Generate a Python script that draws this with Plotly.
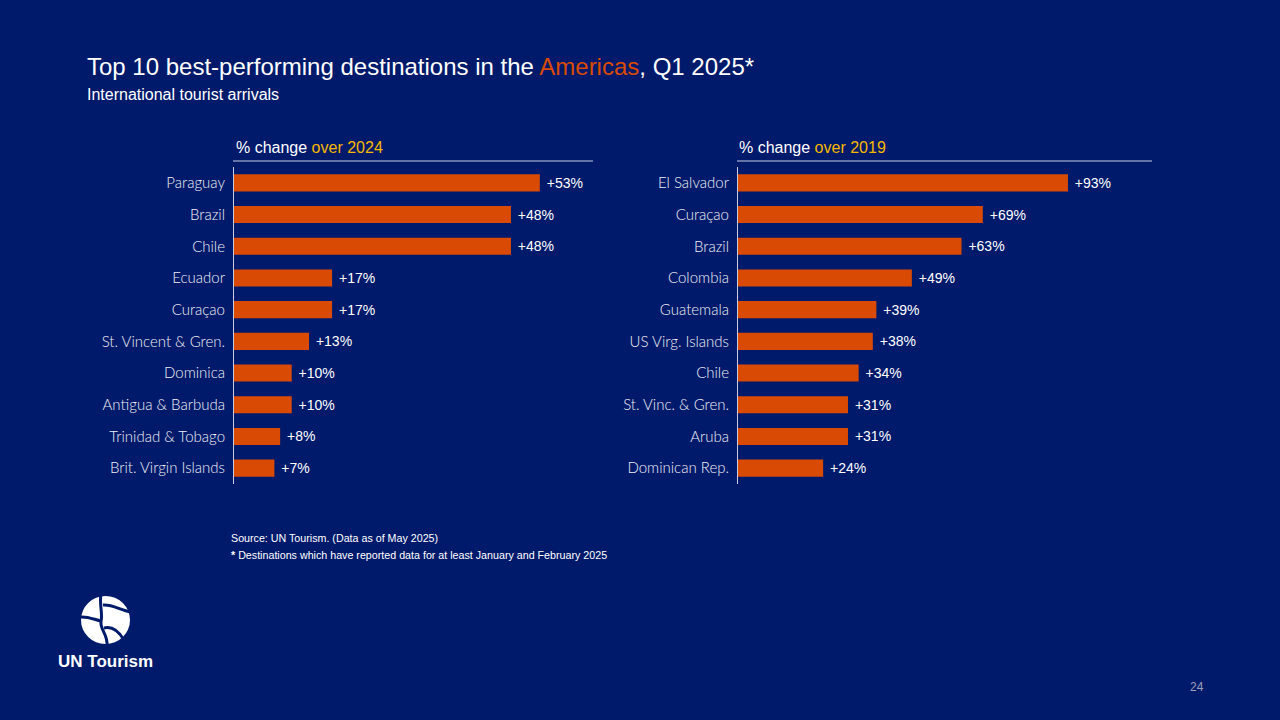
import plotly.graph_objects as go

# Data
left_categories = ["Paraguay", "Brazil", "Chile", "Ecuador", "Curaçao", "St. Vincent & Gren.",
                   "Dominica", "Antigua & Barbuda", "Trinidad & Tobago", "Brit. Virgin Islands"]
left_values = [53, 48, 48, 17, 17, 13, 10, 10, 8, 7]

right_categories = ["El Salvador", "Curaçao", "Brazil", "Colombia", "Guatemala", "US Virg. Islands",
                    "Chile", "St. Vinc. & Gren.", "Aruba", "Dominican Rep."]
right_values = [93, 69, 63, 49, 39, 38, 34, 31, 31, 24]

BG = "#001A6B"
BAR = "#D94A05"
YEL = "#F5B800"
W, H = 1280, 720


def px(x):
    return x / W


def py(y):
    return 1 - y / H


fig = go.Figure()

val_font = dict(color="white", size=14, family="Liberation Sans")

fig.add_trace(go.Bar(
    x=left_values, y=left_categories, orientation="h",
    marker=dict(color=BAR, line=dict(width=0)),
    width=0.54,
    text=[f" +{v}%" for v in left_values], textposition="outside",
    textfont=val_font,
    cliponaxis=False, xaxis="x", yaxis="y", hoverinfo="skip",
))
fig.add_trace(go.Bar(
    x=right_values, y=right_categories, orientation="h",
    marker=dict(color=BAR, line=dict(width=0)),
    width=0.54,
    text=[f" +{v}%" for v in right_values], textposition="outside",
    textfont=val_font,
    cliponaxis=False, xaxis="x2", yaxis="y2", hoverinfo="skip",
))

ydom = [py(484), py(167)]
common_x = dict(showgrid=False, zeroline=False, showticklabels=False, showline=False, fixedrange=True)
common_y = dict(showgrid=False, zeroline=False, showline=True, linecolor="#C8CCE0", linewidth=1,
                ticks="", autorange="reversed", domain=ydom, ticklabelstandoff=5, fixedrange=True,
                tickfont=dict(color="#EEEFF5", size=15, family="Lato", weight=300), type="category")

fig.update_layout(
    width=W, height=H,
    paper_bgcolor=BG, plot_bgcolor=BG,
    margin=dict(l=0, r=0, t=0, b=0),
    showlegend=False,
    bargap=0.46,
    xaxis=dict(domain=[px(234), px(593)], range=[0, (593 - 234) / 5.77], **common_x),
    yaxis=dict(anchor="x", **common_y),
    xaxis2=dict(domain=[px(738), px(1152)], range=[0, (1152 - 738) / 3.548], anchor="y2", **common_x),
    yaxis2=dict(anchor="x2", **common_y),
    font=dict(family="Liberation Sans", color="white"),
)

annotations = [
    dict(x=px(85), y=py(66), xanchor="left", yanchor="middle",
         text=f"Top 10 best-performing destinations in the <span style='color:{BAR}'>Americas</span>, Q1 2025*",
         font=dict(size=24, color="white", family="Liberation Sans")),
    dict(x=px(85), y=py(95), xanchor="left", yanchor="middle",
         text="International tourist arrivals",
         font=dict(size=16, color="white", family="Liberation Sans")),
    dict(x=px(234), y=py(148), xanchor="left", yanchor="middle",
         text=f"% change <span style='color:{YEL}'>over 2024</span>",
         font=dict(size=16, color="white", family="Liberation Sans")),
    dict(x=px(737), y=py(148), xanchor="left", yanchor="middle",
         text=f"% change <span style='color:{YEL}'>over 2019</span>",
         font=dict(size=16, color="white", family="Liberation Sans")),
    dict(x=px(229), y=py(538), xanchor="left", yanchor="middle",
         text="Source: UN Tourism. (Data as of May 2025)",
         font=dict(size=10.7, color="white", family="Liberation Sans")),
    dict(x=px(229), y=py(555), xanchor="left", yanchor="middle",
         text="<b>*</b> Destinations which have reported data for at least January and February 2025",
         font=dict(size=10.7, color="white", family="Liberation Sans")),
    dict(x=px(56), y=py(661), xanchor="left", yanchor="middle",
         text="<b>UN Tourism</b>",
         font=dict(size=17, color="white", family="Liberation Sans")),
    dict(x=px(1197), y=py(687), xanchor="center", yanchor="middle",
         text="24",
         font=dict(size=12, color="#9AA0B8", family="Liberation Sans")),
]
for a in annotations:
    a.update(xref="paper", yref="paper", showarrow=False)
fig.update_layout(annotations=annotations)

shapes = [
    dict(type="line", x0=px(233), x1=px(593), y0=py(161), y1=py(161), line=dict(color="#C8CCE0", width=1)),
    dict(type="line", x0=px(737), x1=px(1152), y0=py(161), y1=py(161), line=dict(color="#C8CCE0", width=1)),
    # logo circle
    dict(type="circle", x0=px(81), x1=px(130), y0=py(644), y1=py(596),
         fillcolor="white", line=dict(width=0)),
    # logo navy cuts
    dict(type="path",
         path=f"M {px(101)} {py(594)} C {px(99)} {py(605)}, {px(103)} {py(612)}, {px(101)} {py(622)} "
              f"C {px(100)} {py(630)}, {px(108)} {py(634)}, {px(107)} {py(646)}",
         line=dict(color=BG, width=3)),
    dict(type="path",
         path=f"M {px(80)} {py(617)} C {px(88)} {py(616)}, {px(95)} {py(620)}, {px(101)} {py(621)}",
         line=dict(color=BG, width=3)),
    dict(type="path",
         path=f"M {px(103)} {py(605)} C {px(112)} {py(604)}, {px(120)} {py(610)}, {px(131)} {py(612)}",
         line=dict(color=BG, width=3)),
    dict(type="path",
         path=f"M {px(104)} {py(628)} C {px(112)} {py(626)}, {px(118)} {py(630)}, {px(124)} {py(640)}",
         line=dict(color=BG, width=3)),
]
for s in shapes:
    s.setdefault("xref", "paper")
    s.setdefault("yref", "paper")
fig.update_layout(shapes=shapes)

fig.write_html("out.html", config={"displayModeBar": False},
               post_script="document.body.style.margin='0';document.body.style.overflow='hidden';")
